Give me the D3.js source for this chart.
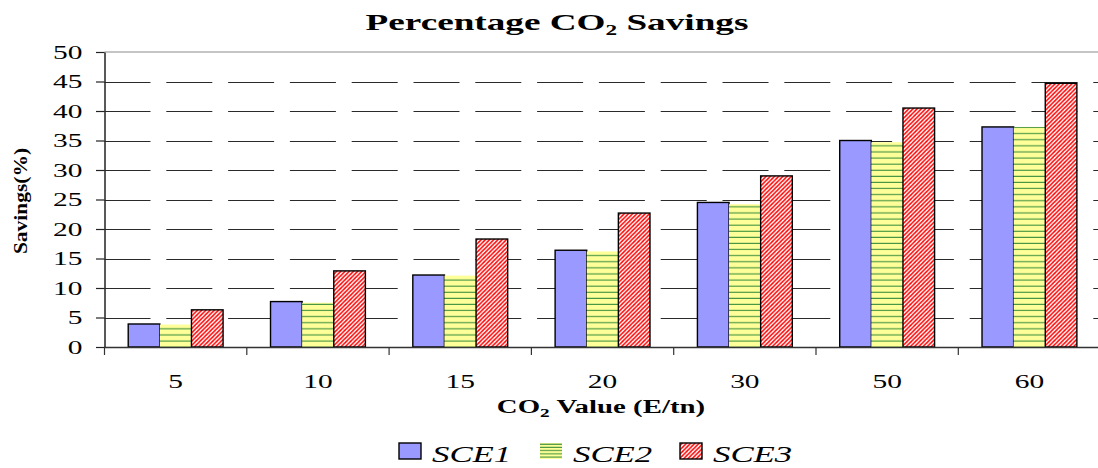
<!DOCTYPE html>
<html>
<head>
<meta charset="utf-8">
<script src="https://cdn.jsdelivr.net/npm/d3@7"></script>
<style>
  html, body { margin: 0; padding: 0; background: #fff; }
  svg { display: block; }
  text { font-family: "Liberation Serif", "Times New Roman", serif; fill: #000; }
</style>
</head>
<body>
<svg id="chart" width="1098" height="468"></svg>
<script>
// CO2 price levels (E/tn) on the category axis
const categories = ["5", "10", "15", "20", "30", "50", "60"];
const seriesNames = ["SCE1", "SCE2", "SCE3"];
// Percentage savings per scenario
const sce1 = [3.9, 7.7, 12.2, 16.4, 24.5, 35.0, 37.3];
const sce2 = [3.8, 7.5, 12.1, 16.2, 24.2, 34.7, 37.3];
const sce3 = [6.3, 12.9, 18.3, 22.7, 29.0, 40.5, 44.7];
const yTicks = [0, 5, 10, 15, 20, 25, 30, 35, 40, 45, 50];

const seriesValues = [sce1, sce2, sce3];
const rows = categories.map((c, i) => ({
  cat: c,
  vals: seriesNames.map((s, k) => ({ key: s, value: seriesValues[k][i] }))
}));

const svg = d3.select("#chart");
const plotLeft = 104.5, plotRight = 1100.6, plotTop = 52, plotBottom = 347;

const x = d3.scaleBand().domain(categories).range([plotLeft, plotRight]).padding(0);
const xs = d3.scaleBand().domain(seriesNames).range([0, x.bandwidth()])
  .paddingInner(0).paddingOuter(0.75);
const y = d3.scaleLinear().domain([0, 50]).range([plotBottom, plotTop]);

// Fill patterns
const defs = svg.append("defs");
function hStripes(id, gap) {
  const p = defs.append("pattern").attr("id", id)
    .attr("patternUnits", "userSpaceOnUse").attr("width", 8).attr("height", gap);
  p.append("rect").attr("width", 8).attr("height", gap).attr("fill", "#FFFF99");
  p.append("rect").attr("y", gap - 1.1).attr("width", 8).attr("height", 1.1).attr("fill", "#3f913f");
}
hStripes("sce2Fill", 6.1);
hStripes("sce2Key", 3.2);

const diag = defs.append("pattern").attr("id", "sce3Fill")
  .attr("patternUnits", "userSpaceOnUse").attr("width", 4.2).attr("height", 4.2);
diag.append("rect").attr("width", 4.2).attr("height", 4.2).attr("fill", "#fff");
diag.append("path")
  .attr("d", "M-1.05,1.05 L1.05,-1.05 M0,4.2 L4.2,0 M3.15,5.25 L5.25,3.15")
  .attr("stroke", "#FF0000").attr("stroke-width", 1.5);

const fills = { SCE1: "#9999FF", SCE2: "url(#sce2Fill)", SCE3: "url(#sce3Fill)" };
const strokes = { SCE1: "#000", SCE2: "none", SCE3: "#000" };

// Horizontal gridlines (dashed)
svg.append("g").selectAll("line")
  .data(yTicks.filter(t => t > 0 && t < 50))
  .join("line")
  .attr("x1", plotLeft).attr("x2", 1098)
  .attr("y1", d => Math.round(y(d)) + 0.5).attr("y2", d => Math.round(y(d)) + 0.5)
  .attr("stroke", "#2a2a2a").attr("stroke-width", 1.2)
  .attr("stroke-dasharray", "46,15.8");

// Top frame line
svg.append("line")
  .attr("x1", plotLeft).attr("x2", 1098).attr("y1", y(50)).attr("y2", y(50))
  .attr("stroke", "#8c8c8c").attr("stroke-width", 1.2);

// Bars
const groups = svg.append("g").selectAll("g")
  .data(rows).join("g")
  .attr("transform", d => `translate(${x(d.cat)},0)`);
groups.selectAll("rect")
  .data(d => d.vals).join("rect")
  .attr("x", d => xs(d.key))
  .attr("width", xs.bandwidth())
  .attr("y", d => y(d.value))
  .attr("height", d => y(0) - y(d.value))
  .attr("fill", d => fills[d.key])
  .attr("stroke", d => strokes[d.key])
  .attr("stroke-width", 1.4);

// Y axis
const sxTick = 1.55;
const yAxis = svg.append("g")
  .attr("transform", `translate(${plotLeft},0)`)
  .attr("font-family", null)
  .call(d3.axisLeft(y).tickValues(yTicks).tickSize(8.5).tickSizeOuter(0).tickFormat(d3.format("d")));
yAxis.attr("font-family", "Liberation Serif, serif");
yAxis.select(".domain").attr("stroke", "#222").attr("stroke-width", 1.5);
yAxis.selectAll(".tick line").attr("stroke", "#222").attr("stroke-width", 1.2);
yAxis.selectAll(".tick text")
  .attr("x", -22 / sxTick)
  .attr("dy", "0.34em")
  .attr("transform", `scale(${sxTick},1)`)
  .style("font-size", "19px").style("font-family", "Liberation Serif, serif");

// X axis
const xAxis = svg.append("g")
  .attr("transform", `translate(0,${plotBottom})`)
  .call(d3.axisBottom(x).tickSize(0).tickSizeOuter(0));
xAxis.attr("font-family", "Liberation Serif, serif");
xAxis.select(".domain").attr("stroke", "#333").attr("stroke-width", 1.5)
  .attr("d", `M${plotLeft},0.5H1098`);
xAxis.selectAll(".tick text")
  .attr("y", 41).attr("dy", 0)
  .attr("transform", `scale(${sxTick},1)`)
  .attr("x", 0)
  .style("font-size", "19px").style("font-family", "Liberation Serif, serif");
// category boundary tick marks
svg.append("g").selectAll("line")
  .data(categories.map(c => x(c)))
  .join("line")
  .attr("x1", d => d).attr("x2", d => d)
  .attr("y1", plotBottom).attr("y2", plotBottom + 8)
  .attr("stroke", "#333").attr("stroke-width", 1.2);

// Title
const title = svg.append("text")
  .attr("transform", "translate(557,30) scale(1.55,1)")
  .attr("text-anchor", "middle")
  .style("font-size", "24px").style("font-weight", "bold");
title.append("tspan").text("Percentage CO");
title.append("tspan").text("2").style("font-size", "15px").attr("dy", 5);
title.append("tspan").text(" Savings").attr("dy", -5);

// X axis title
const xTitle = svg.append("text")
  .attr("transform", "translate(601,413) scale(1.48,1)")
  .attr("text-anchor", "middle")
  .style("font-size", "19.5px").style("font-weight", "bold");
xTitle.append("tspan").text("CO");
xTitle.append("tspan").text("2").style("font-size", "13px").attr("dy", 4);
xTitle.append("tspan").text(" Value (E/tn)").attr("dy", -4);

// Y axis title
svg.append("text")
  .attr("transform", "translate(27,201) rotate(-90) scale(1.13,1)")
  .attr("text-anchor", "middle")
  .style("font-size", "19px").style("font-weight", "bold")
  .text("Savings(%)");

// Legend
const legendItems = [
  { key: "SCE1", sx: 399, tx: 432, fill: "#9999FF", stroke: "#000" },
  { key: "SCE2", sx: 540, tx: 573, fill: "url(#sce2Key)", stroke: "none" },
  { key: "SCE3", sx: 680, tx: 713, fill: "url(#sce3Fill)", stroke: "#000" }
];
const legend = svg.append("g");
legend.selectAll("rect").data(legendItems).join("rect")
  .attr("x", d => d.sx).attr("y", 443).attr("width", 22).attr("height", 16)
  .attr("fill", d => d.fill).attr("stroke", d => d.stroke).attr("stroke-width", 1.4);
legend.selectAll("text").data(legendItems).join("text")
  .attr("transform", d => `translate(${d.tx},462) scale(1.45,1)`)
  .style("font-size", "24px").style("font-style", "italic")
  .text(d => d.key);
</script>
</body>
</html>
